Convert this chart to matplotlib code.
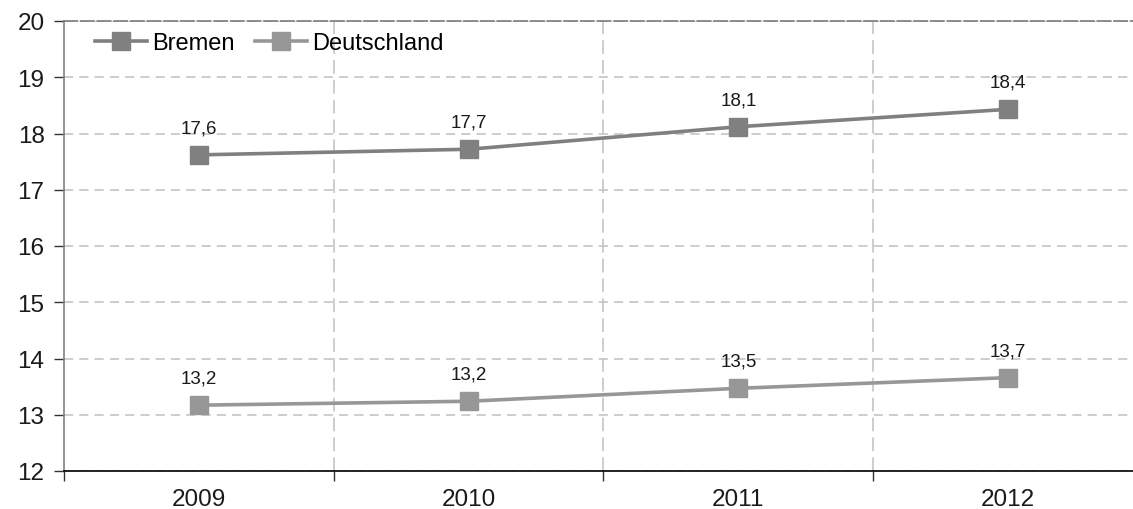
import matplotlib
matplotlib.use("Agg")
import matplotlib.pyplot as plt
from matplotlib.lines import Line2D

plt.rcParams['font.family'] = ['Liberation Sans', 'DejaVu Sans']

# data
years = ['2009', '2010', '2011', '2012']
bremen = [17.62, 17.72, 18.12, 18.43]
deutschland = [13.17, 13.24, 13.47, 13.66]
series_names = ['Bremen', 'Deutschland']
series_colors = ['#808080', '#979797']

fig = plt.figure(figsize=(11.33, 5.10), dpi=100)
ax = fig.add_axes([64 / 1133, 1 - 472 / 510, 1 - 64 / 1133, (472 - 22) / 510])

x = list(range(len(years)))
for vals, name, col in zip([bremen, deutschland], series_names, series_colors):
    ax.plot(x, vals, color=col, lw=2.6, marker='s', markersize=12.5,
            markerfacecolor=col, markeredgecolor=col, label=name, zorder=3)
    for xi, v in zip(x, vals):
        ax.annotate(f"{v:.1f}".replace('.', ','), (xi, v), xytext=(0, 19.5),
                    textcoords='offset points', ha='center', va='center',
                    fontsize=13.5, color='#1a1a1a')

ax.set_ylim(12, 20)
ax.set_xlim(-0.5, 3.5 - 10 / 270)
ax.set_yticks(range(12, 21))
ax.set_xticks(x)
ax.set_xticklabels(years)
ax.set_xticks([-0.5, 0.5, 1.5, 2.5], minor=True)

# grid
ax.yaxis.grid(True, color='#c0c0c0', linestyle=(0, (6, 4)), lw=1.1, zorder=0)
for b in [0.5, 1.5, 2.5]:
    ax.axvline(b, color='#c0c0c0', linestyle=(0, (9, 4)), lw=1.1, zorder=0)

ax.spines['right'].set_visible(False)
ax.spines['top'].set_color('#7a7a7a')
ax.spines['top'].set_linestyle((0, (8, 2)))
ax.spines['top'].set_linewidth(1.2)
ax.spines['left'].set_color('#808080')
ax.spines['left'].set_linewidth(1.2)
ax.spines['bottom'].set_color('black')
ax.spines['bottom'].set_linewidth(1.2)

ax.tick_params(axis='y', direction='out', length=7, width=1, color='#333333',
               labelsize=17.5, pad=7, labelcolor='#1a1a1a')
ax.tick_params(axis='x', which='major', length=0, labelsize=17.5, pad=12,
               labelcolor='#1a1a1a')
ax.tick_params(axis='x', which='minor', direction='out', length=7, width=1,
               color='#333333')

handles = [Line2D([], [], color=c, lw=2.6, marker='s', markersize=12.5)
           for c in series_colors]
ax.legend(handles, series_names, loc='center left',
          bbox_to_anchor=((95 - 64) / 1069, (472 - 44) / 450),
          ncol=2, frameon=False, fontsize=17, handlelength=2.2,
          handletextpad=0.2, columnspacing=0.9, borderaxespad=0, borderpad=0)

fig.savefig('out.png', dpi=100)
